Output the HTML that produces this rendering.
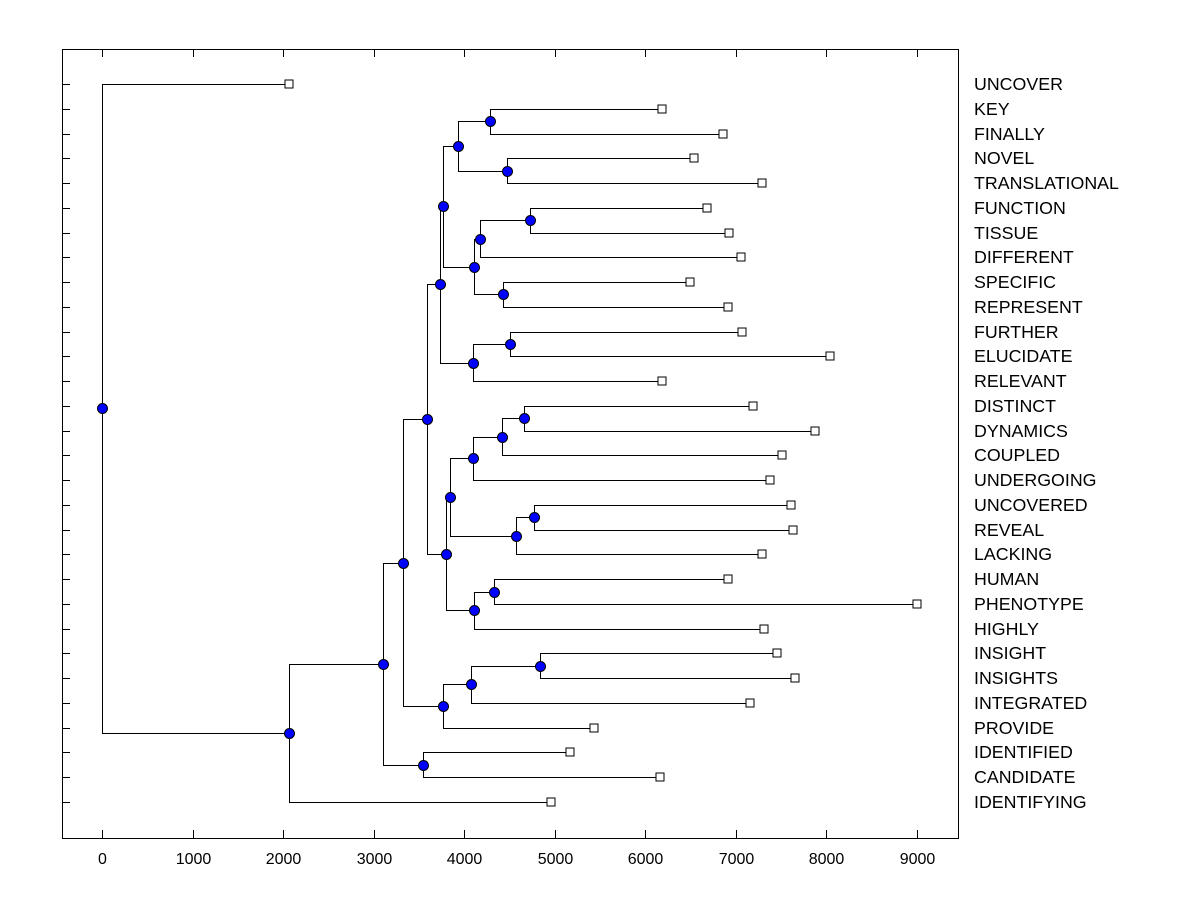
<!DOCTYPE html>
<html><head><meta charset="utf-8"><style>
html,body{margin:0;padding:0;background:#fff;}
svg{display:block;}
text{font-family:"Liberation Sans",Arial,sans-serif;fill:#000;}
</style></head><body>
<svg id="s" width="1200" height="900" xmlns="http://www.w3.org/2000/svg">
<rect x="0" y="0" width="1200" height="900" fill="#fff"/>
<rect x="62.5" y="49.5" width="896" height="789" fill="none" stroke="#000" stroke-width="1"/>
<g id="g"></g>
</svg>
<script>
const labels=["UNCOVER","KEY","FINALLY","NOVEL","TRANSLATIONAL","FUNCTION","TISSUE","DIFFERENT","SPECIFIC","REPRESENT","FURTHER","ELUCIDATE","RELEVANT","DISTINCT","DYNAMICS","COUPLED","UNDERGOING","UNCOVERED","REVEAL","LACKING","HUMAN","PHENOTYPE","HIGHLY","INSIGHT","INSIGHTS","INTEGRATED","PROVIDE","IDENTIFIED","CANDIDATE","IDENTIFYING"];
const lx=[289,662,723,694,762,707,729,741,690,728,742,830,662,753,815,782,770,791,793,762,728,917,764,777,795,750,594,570,660,551];
const ry=i=>84+i*(718/29);
const N={};
labels.forEach((l,i)=>N[l]={x:lx[i],y:ry(i),leaf:true});
function node(n,a,b,x){N[n]={x:x,a:a,b:b,y:(N[a].y+N[b].y)/2};}
node("A","KEY","FINALLY",490);
node("B","NOVEL","TRANSLATIONAL",507);
node("C","A","B",458);
node("D","FUNCTION","TISSUE",530);
node("E","D","DIFFERENT",480);
node("F","SPECIFIC","REPRESENT",503);
node("G","E","F",474);
node("H","C","G",443);
node("I","FURTHER","ELUCIDATE",510);
node("J","I","RELEVANT",473);
node("K","H","J",440);
node("L","DISTINCT","DYNAMICS",524);
node("M","L","COUPLED",502);
node("Nn","M","UNDERGOING",473);
node("O","UNCOVERED","REVEAL",534);
node("P","O","LACKING",516);
node("Q","Nn","P",450);
node("R","HUMAN","PHENOTYPE",494);
node("S","R","HIGHLY",474);
node("T","Q","S",446);
node("U","K","T",427);
node("V","INSIGHT","INSIGHTS",540);
node("W","V","INTEGRATED",471);
node("X","W","PROVIDE",443);
node("Y","U","X",403);
node("Z","IDENTIFIED","CANDIDATE",423);
node("AA","Y","Z",383);
node("AB","AA","IDENTIFYING",289);
node("ROOT","UNCOVER","AB",102);
let lines="",dots="",boxes="",txt="";
const r=v=>Math.round(v)+0.5;
for(const k in N){const n=N[k];if(n.leaf){boxes+=`<rect x="${Math.round(n.x)-4}" y="${Math.round(n.y)-4}" width="8" height="8" fill="#fff" stroke="#000"/>`;continue;}
 const a=N[n.a],b=N[n.b];
 lines+=`<path d="M${r(a.x)} ${r(a.y)}H${r(n.x)}V${r(b.y)}H${r(b.x)}" fill="none" stroke="#000"/>`;
 dots+=`<circle cx="${r(n.x)}" cy="${r(n.y)}" r="5" fill="#0000ff" stroke="#000"/>`;}
labels.forEach((l,i)=>{const y=Math.round(ry(i));txt+=`<text x="974" y="${y+6}" font-size="17.8">${l}</text>`;lines+=`<line x1="62" x2="70" y1="${y+0.5}" y2="${y+0.5}" stroke="#000"/>`;});
for(let v=0;v<=9000;v+=1000){const x=Math.round(102+v*815/9000)+0.5;
 lines+=`<line x1="${x}" x2="${x}" y1="49" y2="57" stroke="#000"/><line x1="${x}" x2="${x}" y1="830" y2="838" stroke="#000"/>`;
 txt+=`<text x="${x}" y="864" font-size="16" text-anchor="middle">${v}</text>`;}
document.getElementById("g").innerHTML=lines+boxes+dots+txt;
</script>
</body></html>
